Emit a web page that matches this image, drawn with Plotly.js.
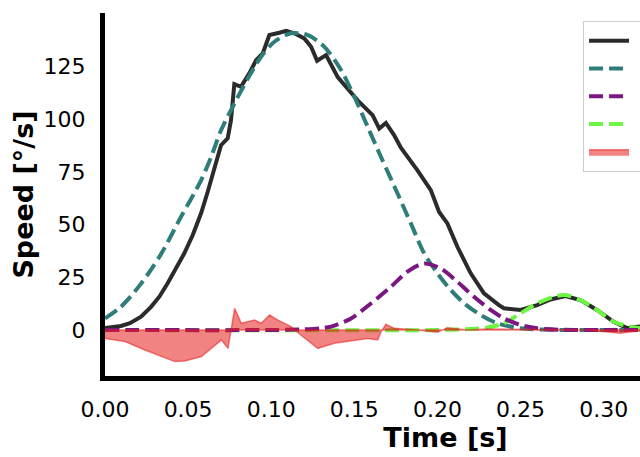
<!DOCTYPE html>
<html>
<head>
<meta charset="utf-8">
<script src="https://cdn.plot.ly/plotly-3.0.1.min.js"></script>
<style>
    html, body { margin: 0; padding: 0; overflow: hidden; background: #fff; }
    #plot { width: 900px; height: 457px; }
</style>
</head>
<body>
<div id="plot"></div>
<script>
// measured speed profile
var timeMeasured = [0.000, 0.0096, 0.0150, 0.0217, 0.0277, 0.0327, 0.0377, 0.0427, 0.0477, 0.0528,
    0.0578, 0.0618, 0.0658, 0.0698, 0.0738, 0.0758, 0.0778, 0.0818, 0.0868, 0.0909,
    0.0949, 0.0989, 0.1049, 0.109, 0.1139, 0.1199, 0.124, 0.1276, 0.133, 0.140,
    0.146, 0.152, 0.161, 0.165, 0.169, 0.174, 0.178, 0.188, 0.196, 0.201,
    0.206, 0.212, 0.220, 0.228, 0.237, 0.240, 0.250, 0.260, 0.268, 0.277,
    0.286, 0.296, 0.306, 0.3145, 0.3204, 0.326];
var speedMeasured = [1.0, 1.9, 3.2, 6.3, 11, 15.8, 22.2, 29.3, 36.4, 45.1,
    55.4, 65.6, 77.5, 87.7, 91, 99.5, 116.7, 115.4, 121.8, 128,
    131.3, 140, 141.1, 142, 140.8, 138.4, 134.4, 127.8, 130.5, 120,
    114.5, 109, 102, 95.6, 98.3, 92.4, 86.5, 75.8, 66.4, 56,
    50.6, 39.5, 26.9, 17.4, 11.8, 10.3, 9.5, 11.8, 14.5, 16.1,
    14.2, 9.5, 3.9, 0.8, 1.6, 2.0];

// submovement 1 (teal)
var timeSub1 = [0.000, 0.0096, 0.0217, 0.0337, 0.0457, 0.0578, 0.0638, 0.0698, 0.0778, 0.0859,
    0.0939, 0.1019, 0.1119, 0.122, 0.132, 0.142, 0.150, 0.158, 0.166, 0.176,
    0.184, 0.192, 0.200, 0.208, 0.216, 0.226, 0.236, 0.250, 0.270, 0.300, 0.330];
var speedSub1 = [5.5, 11, 22, 36, 53.7, 71, 82, 94.8, 107.4, 119.3,
    129.7, 136.8, 140.8, 140, 134.4, 123.4, 110.7, 96.5, 82.2, 64.8,
    50.6, 36.4, 26.9, 19, 12.7, 7.1, 3.2, 0.8, 0.1, 0, 0];

// submovement 2 (purple)
var timeSub2 = [0.000, 0.100, 0.120, 0.130, 0.136, 0.148, 0.160, 0.172, 0.182, 0.192,
    0.202, 0.212, 0.222, 0.232, 0.240, 0.250, 0.260, 0.275, 0.300, 0.330];
var speedSub2 = [0, 0, 0.3, 0.8, 1.6, 5.5, 12.6, 20.5, 27.7, 31.6,
    29.2, 22.9, 15.8, 9.5, 5.5, 2.4, 0.8, 0.1, 0, 0];

// submovement 3 (green)
var timeSub3 = [0.000, 0.200, 0.220, 0.230, 0.240, 0.250, 0.260, 0.270, 0.277, 0.286,
    0.296, 0.306, 0.316, 0.326];
var speedSub3 = [0, 0, 0.5, 1.2, 3.2, 7.9, 12.6, 15.8, 16.6, 14.2,
    9.5, 3.9, 1.6, 0.5];

// residual (filled)
var timeResidual = [0.000, 0.012, 0.024, 0.036, 0.042, 0.048, 0.054, 0.058, 0.064, 0.070,
    0.074, 0.078, 0.082, 0.090, 0.094, 0.099, 0.104, 0.112, 0.118, 0.128,
    0.138, 0.148, 0.158, 0.164, 0.166, 0.169, 0.174, 0.188, 0.200, 0.206,
    0.218, 0.230, 0.260, 0.290, 0.310, 0.320, 0.330];
var speedResidual = [-4, -5.5, -9.5, -13.4, -15, -14.7, -13.4, -12.6, -8.7, -4.7,
    -8.7, 10.3, 3.2, 4.7, 3.2, 7.1, 4.7, 1.6, -2.5, -8.7,
    -6.3, -5.2, -4, -4.7, -1, 2.7, 0.8, 0, -1.1, 1.1,
    0, 0.5, 0.3, 0, -1.5, -0.5, 0];

// labels sit off the right edge, as in the cropped original
var seriesNames = ['Measured', 'Submovement 1', 'Submovement 2', 'Submovement 3', 'Residual'];
var xTicks = [0, 0.05, 0.10, 0.15, 0.20, 0.25, 0.30];
var yTicks = [0, 25, 50, 75, 100, 125];

function runPlot() {
    var plotdiv = document.querySelector('#plot');
    var pad = '\u00a0\u00a0';

    var measured = {
        x: timeMeasured, y: speedMeasured,
        mode: 'lines', type: 'scatter', name: pad + seriesNames[0], legendrank: 1,
        line: { color: '#2b2b2b', width: 4 },
    };
    var sub1 = {
        x: timeSub1, y: speedSub1,
        mode: 'lines', type: 'scatter', name: pad + seriesNames[1], legendrank: 2,
        line: { color: '#2e7d79', width: 4, dash: '14px,6px', shape: 'spline', smoothing: 0.8 },
    };
    var sub3 = {
        x: timeSub3, y: speedSub3,
        mode: 'lines', type: 'scatter', name: pad + seriesNames[3], legendrank: 4,
        line: { color: '#6cf542', width: 4, dash: '14px,6px', shape: 'spline', smoothing: 0.8 },
    };
    var sub2 = {
        x: timeSub2, y: speedSub2,
        mode: 'lines', type: 'scatter', name: pad + seriesNames[2], legendrank: 3,
        line: { color: '#7a1780', width: 4, dash: '14px,6px', shape: 'spline', smoothing: 0.8 },
    };

    // closed polygon: residual curve out, zero baseline back (edge drawn on both)
    var polyX = timeResidual.concat(timeResidual.slice().reverse());
    var polyY = speedResidual.concat(timeResidual.map(function () { return 0; }));
    var residual = {
        x: polyX, y: polyY,
        mode: 'lines', type: 'scatter', name: pad + seriesNames[4], legendrank: 5,
        fill: 'toself', fillcolor: 'rgba(230, 30, 30, 0.55)',
        line: { color: 'rgba(230, 30, 30, 0.55)', width: 1.5 },
    };

    var data = [measured, sub1, sub3, sub2, residual];

    var layout = {
        width: 900,
        height: 457,
        margin: { l: 105, r: 114, t: 13, b: 81 },
        paper_bgcolor: '#fff',
        plot_bgcolor: '#fff',
        font: { family: 'DejaVu Sans', color: '#000' },
        showlegend: true,
        xaxis: {
            range: [0, 0.4097],
            tickvals: xTicks,
            tickformat: '.2f',
            showgrid: false,
            zeroline: false,
            showline: true,
            linewidth: 5,
            linecolor: '#000',
            ticks: '',
            ticklabelstandoff: 10,
            tickfont: { size: 22 },
            title: { text: 'Time [s]', font: { size: 27, weight: 'bold' }, standoff: 8 },
        },
        yaxis: {
            range: [-21.83, 150.45],
            tickvals: yTicks,
            showgrid: false,
            zeroline: false,
            showline: true,
            linewidth: 5,
            linecolor: '#000',
            ticks: '',
            ticklabelstandoff: 10,
            tickfont: { size: 22 },
            title: { text: 'Speed [°/s]', font: { size: 27, weight: 'bold' }, standoff: 4 },
        },
        legend: {
            x: 0.702,
            y: 0.978,
            xanchor: 'left',
            yanchor: 'top',
            bgcolor: 'rgba(255,255,255,0.8)',
            bordercolor: '#cccccc',
            borderwidth: 1,
            itemwidth: 40,
            font: { size: 19 },
        },
    };

    var config = { displayModeBar: false, staticPlot: true };

    Plotly.newPlot(plotdiv, data, layout, config);
}

runPlot();
</script>
</body>
</html>
